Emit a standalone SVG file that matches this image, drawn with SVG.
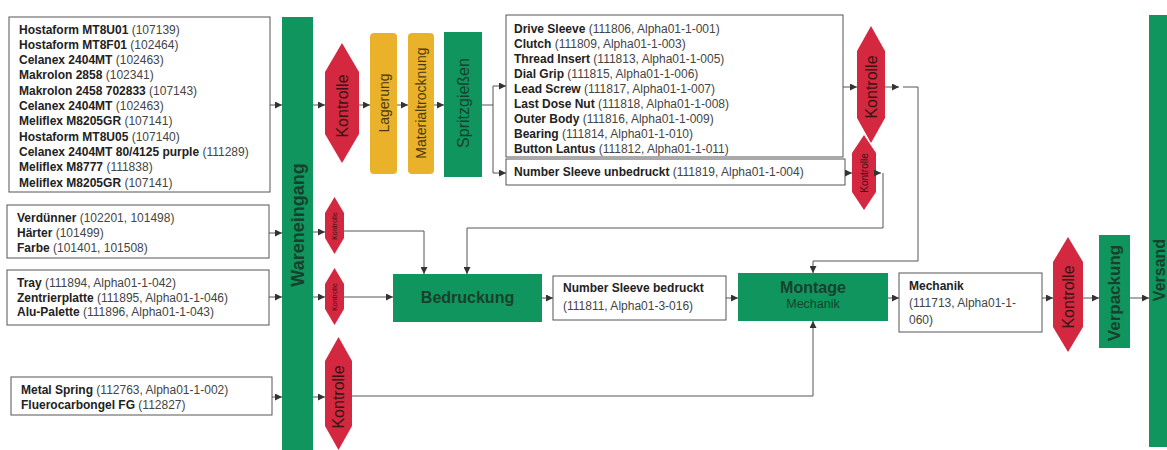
<svg xmlns="http://www.w3.org/2000/svg" width="1167" height="450" viewBox="0 0 1167 450">
<defs>
<marker id="ah" viewBox="0 0 7 7" refX="7" refY="3.5" markerWidth="7" markerHeight="7" markerUnits="userSpaceOnUse" orient="auto">
<path d="M0,0 L7,3.5 L0,7 z" fill="#333"/>
</marker>
<style>
.box{fill:#fff;stroke:#555;stroke-width:1}
.grn{fill:#0f955d}
.org{fill:#eab22a}
.red{fill:#d3283f}
.t{font-family:"Liberation Sans",Arial,sans-serif;font-size:12px;fill:#444}
.b{font-weight:bold;fill:#222}
.rot{font-family:"Liberation Sans",Arial,sans-serif;text-anchor:middle;dominant-baseline:central}
.gt{fill:#17412c}
.kt{fill:#3a1414}
.ot{fill:#4a3a10}
.c{fill:none;stroke:#555;stroke-width:1}
.a{fill:none;stroke:#555;stroke-width:1;marker-end:url(#ah)}
</style>
</defs>
<rect width="1167" height="450" fill="#fff"/>

<g id="rohstoffe">
<rect class="box" x="9" y="17" width="261" height="175"/>
<text class="t" x="19" y="33.5"><tspan class="b">Hostaform MT8U01</tspan> (107139)</text>
<text class="t" x="19" y="48.8"><tspan class="b">Hostaform MT8F01</tspan> (102464)</text>
<text class="t" x="19" y="64.1"><tspan class="b">Celanex 2404MT</tspan> (102463)</text>
<text class="t" x="19" y="79.4"><tspan class="b">Makrolon 2858</tspan> (102341)</text>
<text class="t" x="19" y="94.7"><tspan class="b">Makrolon 2458 702833</tspan> (107143)</text>
<text class="t" x="19" y="110"><tspan class="b">Celanex 2404MT</tspan> (102463)</text>
<text class="t" x="19" y="125.3"><tspan class="b">Meliflex M8205GR</tspan> (107141)</text>
<text class="t" x="19" y="140.6"><tspan class="b">Hostaform MT8U05</tspan> (107140)</text>
<text class="t" x="19" y="155.9"><tspan class="b">Celanex 2404MT 80/4125 purple</tspan> (111289)</text>
<text class="t" x="19" y="171.2"><tspan class="b">Meliflex M8777</tspan> (111838)</text>
<text class="t" x="19" y="186.5"><tspan class="b">Meliflex M8205GR</tspan> (107141)</text>
</g>

<g id="druckmaterial">
<rect class="box" x="7" y="205" width="262" height="53"/>
<text class="t" x="17" y="222"><tspan class="b">Verdünner</tspan> (102201, 101498)</text>
<text class="t" x="17" y="237"><tspan class="b">Härter</tspan> (101499)</text>
<text class="t" x="17" y="252"><tspan class="b">Farbe</tspan> (101401, 101508)</text>
</g>

<g id="verpackungsmaterial">
<rect class="box" x="7" y="270" width="262" height="55"/>
<text class="t" x="17" y="287"><tspan class="b">Tray</tspan> (111894, Alpha01-1-042)</text>
<text class="t" x="17" y="301.5"><tspan class="b">Zentrierplatte</tspan> (111895, Alpha01-1-046)</text>
<text class="t" x="17" y="316"><tspan class="b">Alu-Palette</tspan> (111896, Alpha01-1-043)</text>
</g>

<g id="zukaufteile">
<rect class="box" x="11" y="377" width="261" height="38"/>
<text class="t" x="21" y="394"><tspan class="b">Metal Spring</tspan> (112763, Alpha01-1-002)</text>
<text class="t" x="21" y="408.5"><tspan class="b">Fluerocarbongel FG</tspan> (112827)</text>
</g>

<g id="wareneingang">
<rect class="grn" x="282" y="17" width="31" height="440"/>
<text class="rot gt" transform="translate(298,225) rotate(-90)" font-size="18" font-weight="bold">Wareneingang</text>
</g>

<g id="kontrolle1">
<polygon class="red" points="342,43 359,72 359,134 342,163 325,134 325,72"/>
<text class="rot kt" transform="translate(342,106) rotate(-90)" font-size="16">Kontrolle</text>
</g>

<g id="lagerung">
<rect class="org" x="370" y="33" width="27" height="141" rx="4"/>
<text class="rot ot" transform="translate(383.5,103) rotate(-90)" font-size="14">Lagerung</text>
</g>

<g id="materialtrocknung">
<rect class="org" x="408" y="33" width="26" height="141" rx="4"/>
<text class="rot ot" transform="translate(421,103) rotate(-90)" font-size="14">Materialtrocknung</text>
</g>

<g id="spritzgiessen">
<rect class="grn" x="444" y="32" width="38" height="145"/>
<text class="rot gt" transform="translate(463,103) rotate(-90)" font-size="16">Spritzgießen</text>
</g>

<g id="bauteile">
<rect class="box" x="506" y="15" width="337" height="142"/>
<text class="t" x="514" y="32.7"><tspan class="b">Drive Sleeve</tspan> (111806, Alpha01-1-001)</text>
<text class="t" x="514" y="47.7"><tspan class="b">Clutch</tspan> (111809, Alpha01-1-003)</text>
<text class="t" x="514" y="62.8"><tspan class="b">Thread Insert</tspan> (111813, Alpha01-1-005)</text>
<text class="t" x="514" y="77.8"><tspan class="b">Dial Grip</tspan> (111815, Alpha01-1-006)</text>
<text class="t" x="514" y="92.9"><tspan class="b">Lead Screw</tspan> (111817, Alpha01-1-007)</text>
<text class="t" x="514" y="107.9"><tspan class="b">Last Dose Nut</tspan> (111818, Alpha01-1-008)</text>
<text class="t" x="514" y="122.9"><tspan class="b">Outer Body</tspan> (111816, Alpha01-1-009)</text>
<text class="t" x="514" y="138"><tspan class="b">Bearing</tspan> (111814, Alpha01-1-010)</text>
<text class="t" x="514" y="153"><tspan class="b">Button Lantus</tspan> (111812, Alpha01-1-011)</text>
</g>

<g id="number-sleeve-unbedruckt">
<rect class="box" x="506" y="159" width="339" height="26"/>
<text class="t" x="514" y="176"><tspan class="b">Number Sleeve unbedruckt</tspan> (111819, Alpha01-1-004)</text>
</g>

<g id="kontrolle2">
<polygon class="red" points="871,26 885,51 885,118 871,143 857,118 857,51"/>
<text class="rot kt" transform="translate(871,87) rotate(-90)" font-size="16">Kontrolle</text>
</g>

<g id="kontrolle3">
<polygon class="red" points="864,135 876,153 876,192 864,210 852,192 852,153"/>
<text class="rot kt" transform="translate(864,173) rotate(-90)" font-size="10">Kontrolle</text>
</g>

<g id="kontrolle4">
<polygon class="red" points="334.5,197 344,213 344,238 334.5,254 325,238 325,213"/>
<text class="rot kt" transform="translate(334.5,226) rotate(-90)" font-size="7">Kontrolle</text>
</g>

<g id="kontrolle5">
<polygon class="red" points="334.5,268 344,284 344,309 334.5,325 325,309 325,284"/>
<text class="rot kt" transform="translate(334.5,297) rotate(-90)" font-size="7">Kontrolle</text>
</g>

<g id="kontrolle6">
<polygon class="red" points="338.5,337 352,361 352,426 338.5,450 325,426 325,361"/>
<text class="rot kt" transform="translate(338.5,397) rotate(-90)" font-size="16">Kontrolle</text>
</g>

<g id="bedruckung">
<rect class="grn" x="393" y="274" width="149" height="48"/>
<text x="467.5" y="303" text-anchor="middle" font-family="'Liberation Sans',Arial,sans-serif" font-size="16" font-weight="bold" class="gt">Bedruckung</text>
</g>

<g id="number-sleeve-bedruckt">
<rect class="box" x="553" y="276" width="173" height="44"/>
<text class="t b" x="563" y="292">Number Sleeve bedruckt</text>
<text class="t" x="563" y="310">(111811, Alpha01-3-016)</text>
</g>

<g id="montage">
<rect class="grn" x="738" y="273" width="150" height="48"/>
<text x="813" y="293" text-anchor="middle" font-family="'Liberation Sans',Arial,sans-serif" font-size="16" font-weight="bold" class="gt">Montage</text>
<text x="813" y="308" text-anchor="middle" font-family="'Liberation Sans',Arial,sans-serif" font-size="12.5" class="gt">Mechanik</text>
</g>

<g id="mechanik">
<rect class="box" x="899" y="273" width="143" height="59"/>
<text class="t b" x="909" y="290">Mechanik</text>
<text class="t" x="909" y="307">(111713, Alpha01-1-</text>
<text class="t" x="909" y="324">060)</text>
</g>

<g id="kontrolle7">
<polygon class="red" points="1068,237 1083,262 1083,327 1068,352 1053,327 1053,262"/>
<text class="rot kt" transform="translate(1068,297) rotate(-90)" font-size="16">Kontrolle</text>
</g>

<g id="verpackung">
<rect class="grn" x="1099" y="235" width="31" height="113"/>
<text class="rot gt" transform="translate(1114.5,293) rotate(-90)" font-size="17" font-weight="bold">Verpackung</text>
</g>

<g id="versand">
<rect class="grn" x="1149" y="15" width="25" height="432"/>
<text class="rot gt" transform="translate(1159,270) rotate(-90)" font-size="16" font-weight="bold">Versand</text>
</g>

<g id="connectors">
<path class="a" d="M270,105 H282"/>
<path class="a" d="M313,105 H325"/>
<path class="a" d="M359,105 H370"/>
<path class="a" d="M397,105 H408"/>
<path class="a" d="M434,105 H444"/>
<path class="c" d="M482,105 H493 M493,86 V173"/>
<path class="a" d="M493,86 H506"/>
<path class="a" d="M493,173 H506"/>
<path class="a" d="M843,87 H857"/>
<path class="a" d="M885,87 H899"/>
<path class="a" d="M903,87 H918 V261 H813 V273"/>
<path class="a" d="M845,173 H852"/>
<path class="a" d="M876,173 H881"/>
<path class="a" d="M883,173 V228 H467 V274"/>
<path class="a" d="M269,233 H282"/>
<path class="a" d="M313,232 H325"/>
<path class="a" d="M344,231 H424 V274"/>
<path class="a" d="M269,297 H282"/>
<path class="a" d="M313,297 H325"/>
<path class="a" d="M344,297 H393"/>
<path class="a" d="M542,298 H553"/>
<path class="a" d="M726,298 H738"/>
<path class="a" d="M888,298 H899"/>
<path class="a" d="M1042,298 H1053"/>
<path class="a" d="M1083,298 H1099"/>
<path class="a" d="M1130,298 H1149"/>
<path class="a" d="M272,397 H282"/>
<path class="a" d="M313,397 H325"/>
<path class="a" d="M352,396 H813 V321"/>
</g>
</svg>
